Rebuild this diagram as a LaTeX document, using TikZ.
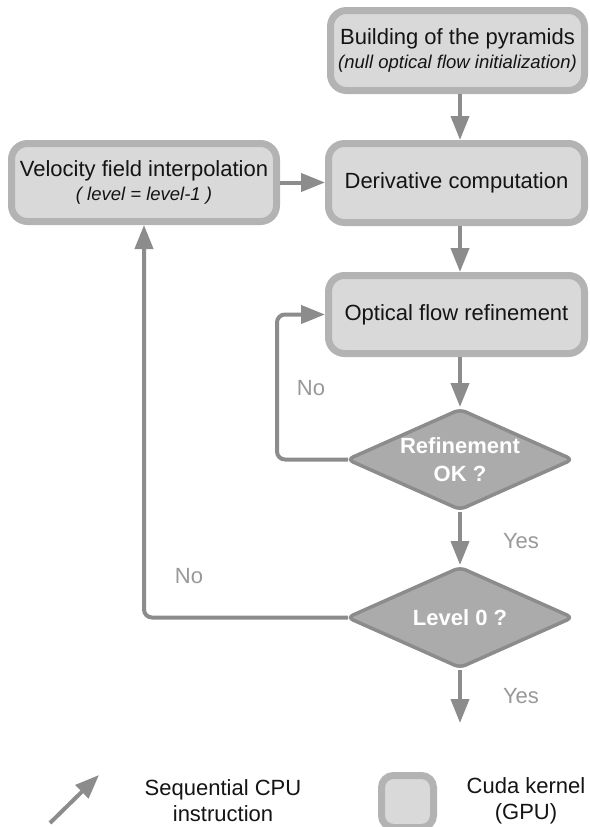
\documentclass[tikz,border=0pt]{standalone}
\usepackage{fontspec}
\setmainfont{Liberation Sans}
\usetikzlibrary{arrows.meta,shapes.geometric}
\definecolor{kborder}{HTML}{B3B3B3}
\definecolor{kfill}{HTML}{D9D9D9}
\definecolor{dfill}{HTML}{ABABAB}
\definecolor{dborder}{HTML}{8C8C8C}
\definecolor{arr}{HTML}{8C8C8C}
\definecolor{lab}{HTML}{999999}
\definecolor{txt}{HTML}{141414}
\begin{document}
\begin{tikzpicture}[x=1pt,y=-1pt,
 kernel/.style={draw=kborder,fill=kfill,line width=7pt,rounded corners=16pt,inner sep=0pt,minimum width=256pt,minimum height=79pt,align=center,text=txt,font=\fontsize{22}{25}\selectfont},
 decision/.style={diamond,draw=dborder,fill=dfill,line width=3.5pt,rounded corners=6pt,inner sep=0pt,minimum width=226.5pt,minimum height=101.5pt},
 dtext/.style={text=white,font=\bfseries\fontsize{22}{28}\selectfont,align=center},
 flow/.style={draw=arr,line width=4pt,-{Triangle[length=24pt,width=18pt]}},
 lbl/.style={text=lab,font=\fontsize{22}{25}\selectfont,anchor=base},
 legtext/.style={text=txt,font=\fontsize{22}{26}\selectfont,align=center}]
\useasboundingbox[fill=white] (0,0) rectangle (589,827);

\node[kernel,minimum width=254pt,minimum height=80pt] (build) at (457.5,50.5)
  {Building of the pyramids\\[-1pt]{\fontsize{18.5}{22}\selectfont\itshape (null optical flow initialization)}};
\node[kernel] (der) at (456.5,183) {Derivative computation};
\node[kernel,minimum width=265pt,minimum height=78pt] (vel) at (144,182.5)
  {Velocity field interpolation\\[-1pt]{\fontsize{18.5}{22}\selectfont\itshape ( level = level-1 )}};
\node[kernel,minimum height=78pt] (opt) at (456.5,314.5) {Optical flow refinement};

\node[decision] (ok) at (460,459.5) {};
\node[dtext] (okt) at (ok.center) {Refinement\\OK ?};
\node[decision] (lvl) at (460,617.5) {};
\node[dtext] (lvlt) at (lvl.center) {Level 0 ?};

\coordinate (endpt) at (460,723);
\coordinate (loopA) at (277,0);

\draw[flow] (build.south -| ok.north) -- (der.north -| ok.north);
\draw[flow] (der.south -| ok.north) -- (opt.north -| ok.north);
\draw[flow] (opt.south -| ok.north) -- (ok.north);
\draw[flow] (ok.south) -- (lvl.north);
\draw[flow] (lvl.south) -- (endpt);
\draw[flow] (vel.east) -- (vel.east -| der.west);
\draw[flow,rounded corners=8pt] ([xshift=3pt]ok.west) -- (ok.west -| loopA) |- (opt.west);
\draw[flow,rounded corners=8pt] ([xshift=3pt]lvl.west) -| (vel.south);

\node[lbl] (no1) at (311,395) {No};
\node[lbl] (no2) at (189,583) {No};
\node[lbl] (yes1) at (521,548) {Yes};
\node[lbl] (yes2) at (521,703) {Yes};

\coordinate (la) at (50,823);
\coordinate (lb) at (99,775);
\draw[flow] (la) -- (lb);
\node[legtext] (seq) at (223,801) {Sequential CPU\\instruction};
\node[kernel,minimum width=52pt,minimum height=52pt,rounded corners=12pt] (legbox) at (407.5,801.5) {};
\node[legtext] (cuda) at (526,801) {Cuda kernel\\(GPU)};
\end{tikzpicture}
\end{document}
